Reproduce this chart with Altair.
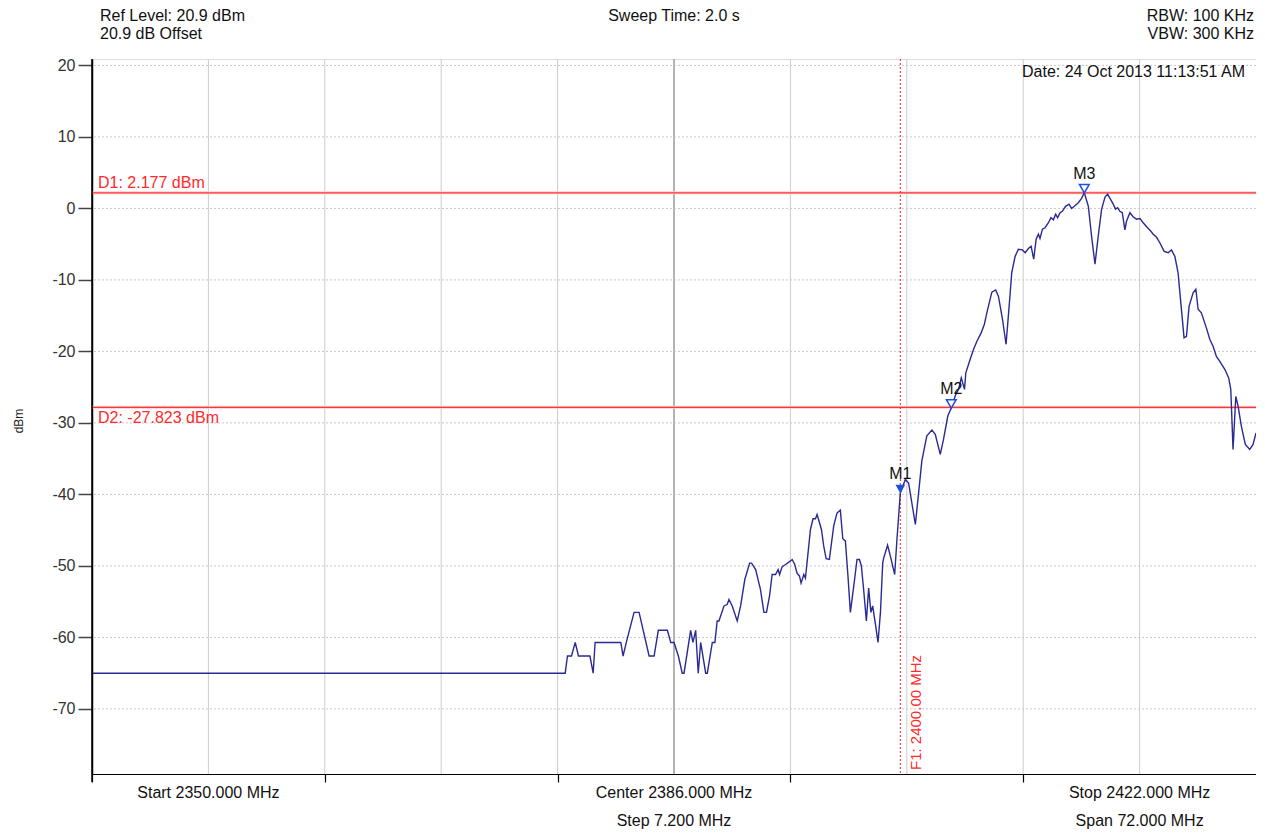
import altair as alt
import pandas as pd

# ---------------- data ----------------
freq_mhz = [
    2350.00, 2379.27, 2379.41, 2379.66, 2379.89, 2380.09, 2380.80, 2381.00, 2381.12, 2382.71,
    2382.85, 2383.05, 2383.53, 2383.84, 2384.46, 2384.77, 2385.03, 2385.59, 2385.80, 2386.00,
    2386.27, 2386.51, 2386.62, 2387.03, 2387.17, 2387.34, 2387.50, 2387.65, 2387.96, 2388.06,
    2388.37, 2388.53, 2388.67, 2388.78, 2389.09, 2389.29, 2389.40, 2389.60, 2389.91, 2390.12,
    2390.38, 2390.68, 2390.80, 2391.05, 2391.35, 2391.56, 2391.72, 2391.91, 2392.07, 2392.28,
    2392.44, 2392.53, 2392.69, 2392.90, 2393.21, 2393.31, 2393.47, 2393.61, 2393.76, 2393.86,
    2394.03, 2394.13, 2394.29, 2394.44, 2394.60, 2394.75, 2394.85, 2395.12, 2395.26, 2395.41,
    2395.61, 2395.88, 2396.08, 2396.29, 2396.44, 2396.60, 2396.76, 2396.91, 2397.12, 2397.32,
    2397.47, 2397.59, 2397.73, 2397.90, 2398.04, 2398.18, 2398.29, 2398.45, 2398.62, 2398.77,
    2398.91, 2398.97, 2399.21, 2399.38, 2399.65, 2399.79, 2400.00, 2400.31, 2400.51, 2400.93,
    2401.13, 2401.33, 2401.64, 2401.95, 2402.16, 2402.47, 2402.67, 2402.94, 2403.15, 2403.40,
    2403.60, 2403.77, 2403.97, 2404.05, 2404.32, 2404.53, 2404.73, 2405.00, 2405.20, 2405.35,
    2405.66, 2405.90, 2406.07, 2406.32, 2406.54, 2406.73, 2406.89, 2407.10, 2407.30, 2407.55,
    2407.72, 2407.92, 2408.09, 2408.25, 2408.40, 2408.54, 2408.64, 2408.79, 2408.95, 2409.16,
    2409.32, 2409.47, 2409.61, 2409.73, 2409.88, 2410.02, 2410.22, 2410.43, 2410.60, 2410.76,
    2411.01, 2411.21, 2411.38, 2411.63, 2411.83, 2412.04, 2412.24, 2412.45, 2412.66, 2412.82,
    2412.97, 2413.17, 2413.31, 2413.44, 2413.58, 2413.73, 2413.89, 2413.99, 2414.20, 2414.41,
    2414.61, 2414.82, 2415.02, 2415.29, 2415.50, 2415.64, 2415.84, 2416.05, 2416.32, 2416.57,
    2416.77, 2416.98, 2417.18, 2417.35, 2417.55, 2417.70, 2417.86, 2418.11, 2418.28, 2418.42,
    2418.62, 2418.93, 2419.14, 2419.35, 2419.55, 2419.76, 2420.07, 2420.31, 2420.44, 2420.58,
    2420.75, 2420.89, 2421.09, 2421.34, 2421.61, 2421.82, 2422.00,
]
level_dbm = [
    -65.0, -65.0, -62.6, -62.6, -60.7, -62.6, -62.6, -65.0, -60.7, -60.7,
    -62.6, -60.7, -56.5, -56.5, -62.6, -62.6, -59.0, -59.0, -60.7, -60.7,
    -62.6, -65.0, -65.0, -59.0, -60.7, -59.0, -65.0, -60.7, -65.0, -65.0,
    -60.7, -60.7, -57.7, -57.7, -55.6, -55.4, -54.7, -55.6, -57.7, -55.6,
    -51.9, -49.6, -49.6, -50.5, -53.3, -56.5, -56.5, -54.2, -51.2, -51.2,
    -50.5, -51.2, -50.1, -49.8, -49.3, -49.1, -49.8, -51.0, -51.4, -52.4,
    -51.2, -51.7, -48.2, -44.9, -43.4, -43.4, -42.8, -44.9, -47.2, -49.0,
    -49.1, -44.4, -42.6, -42.2, -46.2, -46.5, -51.4, -56.5, -52.8, -49.1,
    -49.1, -50.0, -53.3, -57.7, -53.1, -56.5, -55.6, -58.0, -60.7, -56.5,
    -49.6, -48.9, -47.1, -48.6, -51.2, -46.3, -39.8, -37.9, -38.4, -44.2,
    -39.8, -35.3, -31.8, -31.0, -31.6, -34.4, -32.3, -29.0, -27.9, -26.2,
    -25.3, -23.7, -25.3, -23.0, -21.1, -19.7, -18.6, -17.4, -16.2, -14.6,
    -11.7, -11.4, -12.3, -15.5, -19.0, -13.7, -9.0, -6.7, -5.7, -5.8,
    -6.2, -5.6, -5.3, -7.1, -4.3, -3.6, -4.2, -2.9, -2.7, -2.0,
    -1.3, -1.6, -0.8, -1.3, -0.6, -0.4, 0.3, 0.6, 0.0, 0.3,
    0.8, 1.4, 2.2, 0.3, -3.9, -7.8, -3.9, -0.1, 1.6, 2.0,
    1.4, 0.6, -0.1, 0.1, -0.4, -0.6, -3.0, -1.8, -0.6, -1.2,
    -1.5, -1.4, -2.0, -2.7, -3.2, -3.6, -4.0, -4.8, -6.0, -6.2,
    -5.8, -6.7, -9.0, -13.2, -18.1, -17.9, -13.7, -11.8, -11.3, -14.1,
    -14.6, -16.7, -18.3, -19.3, -20.7, -21.4, -22.5, -23.7, -25.3, -33.7,
    -26.3, -27.6, -30.4, -33.0, -33.7, -33.0, -31.4,
]

grid_freqs = [2357.2, 2364.4, 2371.6, 2378.8, 2393.2, 2400.4, 2407.6, 2414.8]
center_freq = [2386.0]
x_tick_freqs = [2350.0, 2364.4, 2378.8, 2393.2, 2407.6]
y_ticks = [-70, -60, -50, -40, -30, -20, -10, 0, 10, 20]

delta_names = ["D1", "D2"]
delta_levels = [2.177, -27.823]
delta_labels = ["D1: 2.177 dBm", "D2: -27.823 dBm"]

f1_freq = [2400.0]
f1_label = ["F1: 2400.00 MHz"]

marker_names = ["M1", "M2", "M3"]
marker_freqs = [2400.0, 2403.15, 2411.38]
marker_levels = [-39.8, -27.9, 2.2]

bottom_freqs = [2357.2, 2386.0, 2414.8]
bottom_row1 = ["Start 2350.000 MHz", "Center 2386.000 MHz", "Stop 2422.000 MHz"]
bottom_row2 = ["", "Step 7.200 MHz", "Span 72.000 MHz"]

header_left = ["Ref Level: 20.9 dBm", "20.9 dB Offset"]
header_center = ["Sweep Time: 2.0 s"]
header_right = ["RBW: 100 KHz", "VBW: 300 KHz"]
date_text = ["Date: 24 Oct 2013 11:13:51 AM"]

# ---------------- chart ----------------
W, H = 1164, 715
FONT = "Liberation Sans"
FS = 16
TXT = "#111111"

xs = alt.Scale(domain=[2350, 2422], nice=False, zero=False)
ys = alt.Scale(domain=[-79.1, 20.9], nice=False, zero=False)

x_axis = alt.Axis(values=x_tick_freqs, labels=False, title=None, grid=False,
                  tickSize=8, tickColor="black", tickWidth=1.2,
                  domainColor="black", domainWidth=1.2)
y_axis = alt.Axis(values=y_ticks, grid=False, title="dBm",
                  titleFontSize=12, titleFontWeight="normal", titleFont=FONT,
                  titleColor="#222", titleX=-74, titleY=H / 2 + 4, titleAngle=270,
                  titleBaseline="middle", titleAlign="center",
                  labelExpr="datum.value + ''",
                  labelFont=FONT, labelFontSize=FS, labelColor="#333", labelPadding=3,
                  tickSize=14, tickColor="#444", tickWidth=1.5,
                  domainColor="black", domainWidth=1.5)


def X(field):
    return alt.X(field, type="quantitative", scale=xs, axis=x_axis)


def Y(field):
    return alt.Y(field, type="quantitative", scale=ys, axis=y_axis)


trace_df = pd.DataFrame({"freq": freq_mhz, "level": level_dbm})
grid_df = pd.DataFrame({"f": grid_freqs})
center_df = pd.DataFrame({"f": center_freq})
ygrid_df = pd.DataFrame({"v": y_ticks})
delta_df = pd.DataFrame({"name": delta_names, "level": delta_levels, "label": delta_labels})
f1_df = pd.DataFrame({"f": f1_freq, "label": f1_label})
mk_df = pd.DataFrame({"name": marker_names, "freq": marker_freqs, "level": marker_levels})
bottom_df = pd.DataFrame({"f": bottom_freqs, "r1": bottom_row1, "r2": bottom_row2})
hl_df = pd.DataFrame({"t": header_left, "row": [0, 1]})
hr_df = pd.DataFrame({"t": header_right, "row": [0, 1]})
hc_df = pd.DataFrame({"t": header_center, "f": center_freq})
date_df = pd.DataFrame({"t": date_text})
one_df = pd.DataFrame({"a": [0]})

vgrid = alt.Chart(grid_df).mark_rule(color="#CCCCCC", strokeWidth=1).encode(x=X("f"))
cgrid = alt.Chart(center_df).mark_rule(color="#9A9A9A", strokeWidth=1.5).encode(x=X("f"))
hgrid = alt.Chart(ygrid_df).mark_rule(color="#C8C8C8", strokeWidth=1, strokeDash=[2, 2]).encode(y=Y("v"))

yext = alt.Chart(one_df).mark_rule(color="black", strokeWidth=1.5).encode(
    x=alt.value(0), y=alt.value(0), y2=alt.value(H + 8))

d_halo = alt.Chart(delta_df).mark_rule(color="#FFCCCC", strokeWidth=3).encode(y=Y("level"))
d_line = alt.Chart(delta_df).mark_rule(color="#FF3535", strokeWidth=1.2).encode(y=Y("level"))
d1_text = alt.Chart(delta_df).transform_filter(alt.datum.name == "D1").mark_text(
    align="left", baseline="bottom", dy=-2, color="#FF2A2A", fontSize=FS, font=FONT).encode(
    x=alt.value(6), y=Y("level"), text="label")
d2_text = alt.Chart(delta_df).transform_filter(alt.datum.name == "D2").mark_text(
    align="left", baseline="top", dy=3, color="#FF2A2A", fontSize=FS, font=FONT).encode(
    x=alt.value(6), y=Y("level"), text="label")

f1_line = alt.Chart(f1_df).mark_rule(color="#FF2020", strokeWidth=1, strokeDash=[2, 2]).encode(x=X("f"))
f1_text = alt.Chart(f1_df).mark_text(angle=270, align="left", baseline="middle", dy=16,
                                     color="#FF2A2A", fontSize=15, font=FONT).encode(
    x=X("f"), y=alt.value(H - 4), text="label")

trace = alt.Chart(trace_df).mark_line(color="#2A2A95", strokeWidth=1.4).encode(
    x=X("freq"), y=Y("level"))

m_filled = alt.Chart(mk_df).transform_filter(alt.datum.name == "M1").mark_point(
    shape="triangle-down", size=95, filled=True, color="#1F4FE0", opacity=1, yOffset=-4).encode(
    x=X("freq"), y=Y("level"))
m_hollow = alt.Chart(mk_df).transform_filter(alt.datum.name != "M1").mark_point(
    shape="triangle-down", size=95, filled=True, fill="white", stroke="#1F4FE0",
    strokeWidth=1.5, opacity=1, yOffset=-4).encode(x=X("freq"), y=Y("level"))
m_text = alt.Chart(mk_df).mark_text(baseline="bottom", dy=-11, fontSize=FS, font=FONT,
                                    color=TXT).encode(x=X("freq"), y=Y("level"), text="name")

date = alt.Chart(date_df).mark_text(align="right", baseline="middle", fontSize=FS, font=FONT,
                                    color=TXT).encode(x=alt.value(W - 11), y=alt.value(13), text="t")

hl = alt.Chart(hl_df).mark_text(align="left", baseline="alphabetic", fontSize=FS, font=FONT,
                                color=TXT).encode(
    x=alt.value(8), y=alt.Y("row:Q", scale=alt.Scale(domain=[0, 1], range=[-38, -20]), axis=None),
    text="t")
hr = alt.Chart(hr_df).mark_text(align="right", baseline="alphabetic", fontSize=FS, font=FONT,
                                color=TXT).encode(
    x=alt.value(W - 2), y=alt.Y("row:Q", scale=alt.Scale(domain=[0, 1], range=[-38, -20]), axis=None),
    text="t")
hc = alt.Chart(hc_df).mark_text(align="center", baseline="alphabetic", fontSize=FS, font=FONT,
                                color=TXT).encode(x=X("f"), y=alt.value(-38), text="t")

b1 = alt.Chart(bottom_df).mark_text(align="center", baseline="middle", fontSize=FS, font=FONT,
                                    color=TXT).encode(x=X("f"), y=alt.value(H + 19), text="r1")
b2 = alt.Chart(bottom_df).mark_text(align="center", baseline="alphabetic", fontSize=FS, font=FONT,
                                    color=TXT).encode(x=X("f"), y=alt.value(H + 52), text="r2")

main = alt.layer(vgrid, cgrid, hgrid, d_halo, d_line, f1_line, trace, m_filled, m_hollow,
                 m_text, d1_text, d2_text, f1_text, date, hc, b1, b2, yext).resolve_scale(y="shared")

chart = alt.layer(main, hl, hr).resolve_scale(y="independent").properties(
    width=W, height=H,
    padding={"left": 84, "top": 51, "right": 0, "bottom": 56},
    autosize=alt.AutoSizeParams(type="none"),
    background="white",
).configure_view(stroke="#D5D5D5", strokeWidth=1).configure(font=FONT)

chart.save("out.html", embed_options={"renderer": "svg", "actions": False})
